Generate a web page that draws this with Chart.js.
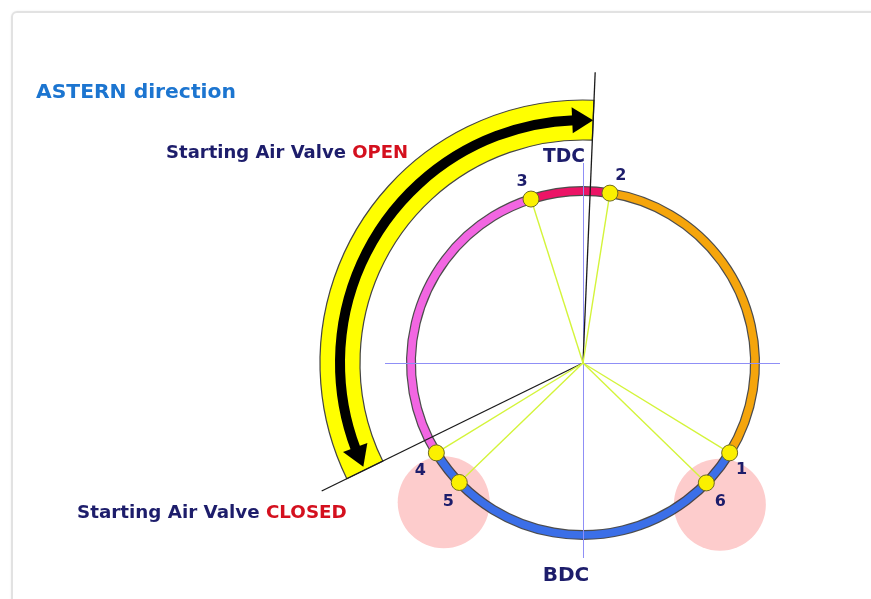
<!DOCTYPE html>
<html>
<head>
<meta charset="utf-8">
<script src="https://cdn.jsdelivr.net/npm/chart.js@4/dist/chart.umd.min.js"></script>
<style>
  html, body { margin:0; padding:0; background:#fff; width:871px; height:599px; overflow:hidden; }
  #card { position:absolute; left:11px; top:11px; width:900px; height:700px; border:2px solid #e2e2e2; border-radius:6px; box-shadow:0 0 2px rgba(0,0,0,0.08); }
  #c { position:absolute; left:0; top:0; }
</style>
</head>
<body>
<div id="card"></div>
<canvas id="c" width="871" height="599"></canvas>
<script>
// ---- data (crank angles in degrees, clockwise from TDC) ----
const valveLabels = ['1', '2', '3', '4', '5', '6'];
const valveAngles = [121.5, 9, 342.4, 238.5, 226, 134.2];
// arc segments of the crank circle: from valve label to valve label (clockwise)
const segmentFrom = ['3', '2', '1', '4'];
const segmentTo   = ['2', '1', '4', '3'];
const valveOpenAngle = 2.4;      // starting air valve opens
const valveClosedAngle = 243.9;  // starting air valve closes
const pinkZoneAngles = [136, 225];
const deadCentreLabels = ['TDC', 'BDC'];
const titleText = ['ASTERN', ' direction'];
const openText = ['Starting Air Valve ', 'OPEN'];
const closedText = ['Starting Air Valve ', 'CLOSED'];

// ---- geometry / styles ----
const R = 172;             // crank circle radius (px units)
const segmentColors = ['#ec1466', '#f5a50c', '#3b6fe8', '#f266e2'];
const labelOffsets = [[12,17],[11,-17],[-9,-17],[-16,18],[-11,19],[14,19]];
const NAVY = '#1d1d6b', RED = '#d4101e', BLUE = '#1c75d0';
const FONT = '"DejaVu Sans", Verdana, sans-serif';

const rad = d => d * Math.PI / 180;
const polar = (r, deg) => ({ x: r * Math.sin(rad(deg)), y: r * Math.cos(rad(deg)) });
const angleOf = lbl => valveAngles[valveLabels.indexOf(lbl)];

const spokeSets = valveAngles.map(a => ({
  type: 'scatter', showLine: true, order: 2,
  data: [{ x: 0, y: 0 }, polar(R, a)],
  borderColor: '#d4f43a', borderWidth: 1.4, pointRadius: 0, fill: false
}));

const pointSet = {
  type: 'scatter', order: 1,
  data: valveAngles.map(a => polar(R, a)),
  pointRadius: 8, pointBackgroundColor: '#fbf000', pointBorderColor: '#6e6a22', pointBorderWidth: 1
};

function px(chart, v) {
  return { x: chart.scales.x.getPixelForValue(v.x), y: chart.scales.y.getPixelForValue(v.y) };
}
function rpx(chart, r) { return chart.scales.x.getPixelForValue(r) - chart.scales.x.getPixelForValue(0); }
const cang = deg => rad(deg - 90);

// draw multi-colour text fitted to a target width (font size scaled, capped)
function fitted(ctx, parts, cols, x, y, width, align, maxSize) {
  ctx.font = 'bold 20px ' + FONT;
  const natural = ctx.measureText(parts.join('')).width;
  const size = Math.min(maxSize, 20 * width / natural);
  ctx.font = 'bold ' + size.toFixed(2) + 'px ' + FONT;
  const total = ctx.measureText(parts.join('')).width;
  let cx = align === 'right' ? x - total : (align === 'center' ? x - total / 2 : x);
  ctx.textAlign = 'left';
  parts.forEach((p, i) => {
    ctx.fillStyle = cols[i];
    ctx.fillText(p, cx, y);
    cx += ctx.measureText(p).width;
  });
}

const diagram = {
  id: 'diagram',
  beforeDatasetsDraw(chart) {
    const ctx = chart.ctx;
    const c = px(chart, { x: 0, y: 0 });
    ctx.save();
    // pink zones
    pinkZoneAngles.forEach(a => {
      const p = px(chart, polar(197, a));
      ctx.beginPath(); ctx.arc(p.x, p.y, rpx(chart, 46), 0, Math.PI * 2);
      ctx.fillStyle = '#fdcccc'; ctx.fill();
    });
    // crank circle arcs
    const rr = rpx(chart, R);
    segmentFrom.forEach((f, i) => {
      let a0 = angleOf(f), a1 = angleOf(segmentTo[i]);
      ctx.beginPath(); ctx.arc(c.x, c.y, rr, cang(a0), cang(a1), false);
      ctx.lineWidth = 10; ctx.strokeStyle = 'rgba(45,45,45,0.85)'; ctx.lineCap = 'butt'; ctx.stroke();
    });
    segmentFrom.forEach((f, i) => {
      let a0 = angleOf(f), a1 = angleOf(segmentTo[i]);
      ctx.beginPath(); ctx.arc(c.x, c.y, rr, cang(a0), cang(a1), false);
      ctx.lineWidth = 7.6; ctx.strokeStyle = segmentColors[i]; ctx.stroke();
    });
    // blue guide lines
    ctx.strokeStyle = '#8f8ff6'; ctx.lineWidth = 1;
    let h0 = px(chart, { x: -198, y: 0 }), h1 = px(chart, { x: 197, y: 0 });
    ctx.beginPath(); ctx.moveTo(h0.x, h0.y + 0.5); ctx.lineTo(h1.x, h1.y + 0.5); ctx.stroke();
    let v0 = px(chart, { x: 0, y: 200 }), v1 = px(chart, { x: 0, y: -195 });
    ctx.beginPath(); ctx.moveTo(v0.x + 0.5, v0.y); ctx.lineTo(v1.x + 0.5, v1.y); ctx.stroke();
    // yellow band
    const ri = rpx(chart, 223), ro = rpx(chart, 263);
    const b0 = cang(valveClosedAngle), b1 = cang(valveOpenAngle + 360);
    ctx.beginPath();
    ctx.arc(c.x, c.y, ro, b0, b1, false);
    ctx.arc(c.x, c.y, ri, b1, b0, true);
    ctx.closePath();
    ctx.fillStyle = '#ffff00'; ctx.fill();
    ctx.strokeStyle = '#444'; ctx.lineWidth = 1.2; ctx.stroke();
    // black arrow
    const ra = rpx(chart, 243), headLen = 21 / ra * 180 / Math.PI;
    const tipA = valveOpenAngle + 360, tipB = valveClosedAngle + 0.8;
    ctx.beginPath();
    ctx.arc(c.x, c.y, ra, cang(tipB + headLen - 0.5), cang(tipA - headLen + 0.5), false);
    ctx.lineWidth = 10; ctx.strokeStyle = '#000'; ctx.stroke();
    [[tipA, tipA - headLen], [tipB, tipB + headLen]].forEach(([t, b]) => {
      const pt = px(chart, polar(243, t)), pa = px(chart, polar(256, b)), pb = px(chart, polar(230, b));
      ctx.beginPath(); ctx.moveTo(pt.x, pt.y); ctx.lineTo(pa.x, pa.y); ctx.lineTo(pb.x, pb.y); ctx.closePath();
      ctx.fillStyle = '#000'; ctx.fill();
    });
    // valve timing lines
    ctx.strokeStyle = '#1a1a1a'; ctx.lineWidth = 1.3;
    [valveOpenAngle, valveClosedAngle].forEach(a => {
      const e = px(chart, polar(291, a));
      ctx.beginPath(); ctx.moveTo(c.x, c.y); ctx.lineTo(e.x, e.y); ctx.stroke();
    });
    ctx.restore();
  },
  afterDatasetsDraw(chart) {
    const ctx = chart.ctx;
    ctx.save();
    // valve numbers
    ctx.font = 'bold 16px ' + FONT; ctx.fillStyle = NAVY; ctx.textAlign = 'center';
    ctx.textBaseline = 'middle';
    valveLabels.forEach((l, i) => {
      const p = px(chart, polar(R, valveAngles[i]));
      ctx.fillText(l, p.x + labelOffsets[i][0], p.y + labelOffsets[i][1]);
    });
    ctx.textBaseline = 'alphabetic';
    // TDC / BDC
    const t = px(chart, { x: -19, y: 201 }), b = px(chart, { x: -17, y: -218 });
    fitted(ctx, [deadCentreLabels[0]], [NAVY], t.x, t.y, 42, 'center', 19);
    fitted(ctx, [deadCentreLabels[1]], [NAVY], b.x, b.y, 47, 'center', 20);
    // titles
    fitted(ctx, titleText, [BLUE, BLUE], 36, 98, 200, 'left', 21);
    fitted(ctx, openText, [NAVY, RED], 408, 157.7, 242, 'right', 19);
    fitted(ctx, closedText, [NAVY, RED], 77, 517.5, 270, 'left', 19);
    ctx.restore();
  }
};

new Chart(document.getElementById('c'), {
  type: 'scatter',
  data: { datasets: [pointSet, ...spokeSets] },
  options: {
    responsive: false, animation: false, devicePixelRatio: 1,
    layout: { padding: 0, autoPadding: false },
    plugins: { legend: { display: false }, tooltip: { enabled: false } },
    scales: {
      x: { type: 'linear', min: -583, max: 288, display: false },
      y: { type: 'linear', min: -236, max: 363, display: false }
    }
  },
  plugins: [diagram]
});
</script>
</body>
</html>
